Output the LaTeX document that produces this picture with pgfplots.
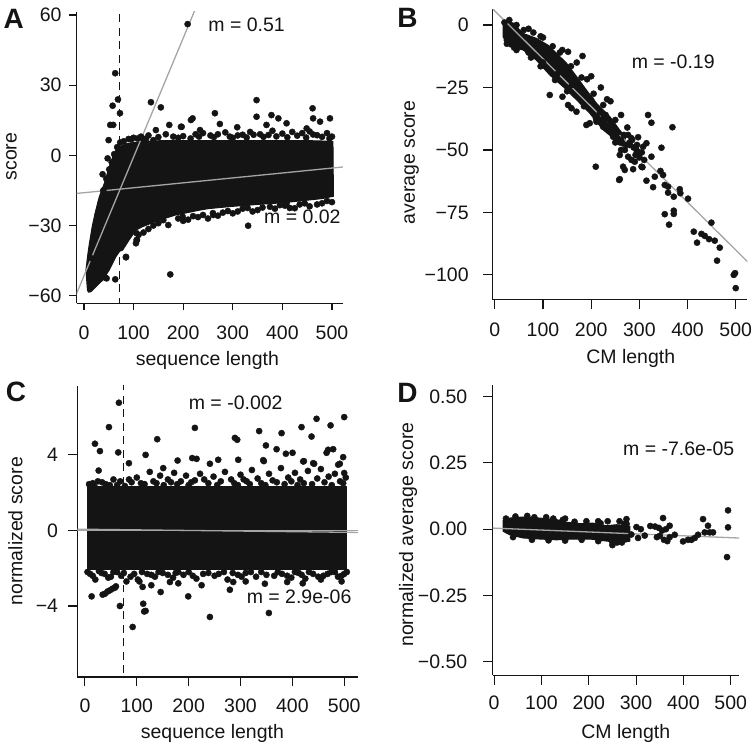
\documentclass[border=0pt]{standalone}
\usepackage{pgfplots}
\pgfplotsset{compat=1.18}
\usepackage{fontspec}
\setmainfont{Liberation Sans}
\definecolor{dk}{RGB}{20,20,20}
\definecolor{gr}{RGB}{165,165,165}
\newcommand{\fs}{\fontsize{19.5}{22}\selectfont}
\newcommand{\fb}{\fontsize{28}{30}\selectfont\bfseries}
\pgfplotsset{
 rbase/.style={scale only axis, axis lines=left, axis line style={-, line width=1.1pt, dk},
   tick align=outside, every tick/.style={line width=1.1pt, dk},
   tick label style={font=\fs, text=dk},
   xticklabel style={anchor=north, inner sep=0pt},
   yticklabel style={anchor=east, inner sep=0pt},
   minor tick num=0, clip=true, anchor=south west},
 pts/.style={only marks, mark=*, mark size=3.1pt, mark options={draw=dk, fill=dk}},
 blob/.style={fill=dk, draw=dk, line width=1pt, line join=round},
 fit/.style={gr, line width=1.3pt, no marks},
 vdash/.style={dk, line width=1.3pt, dash pattern=on 8pt off 5.5pt, no marks}
}
\begin{document}
\begin{tikzpicture}[x=1pt,y=1pt]
\path (0,0) rectangle (752,748);
% ---------------- A
\begin{axis}[rbase, at={(76.7pt,444.7pt)}, width=266.3pt, height=291.6pt,
  xmin=-14.7, xmax=522, ymin=-63.2, ymax=61.4,
  xtick={0,100,200,300,400,500}, xticklabels={0,100,200,300,400,500},
  ytick={-60,-30,0,30,60}, yticklabels={−60,−30,0,30,60},
  major tick length=7.3pt, xticklabel style={yshift=-15.7pt}, yticklabel style={xshift=-7.7pt}]
\addplot[blob] coordinates {(7,-57.6) (4,-49) (8,-42) (11,-37.6) (17,-30) (24,-23.4) (31,-17.7) (41,-12) (51,-4.9) (58,-0.6) (65,2.5) (75,4) (85,5) (118,6) (160,6.3) (206,6.3) (250,6.3) (300,6.3) (350,6.3) (400,6.3) (450,6.3) (502,6) (503,-17.5) (480,-18.5) (435,-19.5) (400,-20.3) (350,-21) (300,-21.8) (250,-22.8) (234,-23.4) (185,-25.5) (152,-27.7) (118,-30.5) (105,-31.9) (91,-36.2) (78,-40.5) (72,-41) (64.5,-43.3) (51,-49) (38,-53.3) (24,-56.2) (14,-58.3) (9,-58.5)} -- cycle;
\addplot[pts] coordinates {(209,56.1) (63,35.1) (68.5,23.9) (57.8,21.2) (72.6,18) (53,13) (59,13) (135,22.7) (155,20.5) (49.7,6.5) (47.7,-1.3) (37.6,-8.1) (118,7.3) (145,10.8) (172,13) (195.6,12.2) (215.7,15.1) (84.7,-43.6) (63.1,-53) (43,-52.3) (174,-50.9) (106.9,-36.2) (104.8,-37.6) (71.2,-39) (264,18) (219,15.8) (197,12.2) (234,10.8) (294,8) (274,13.4) (309,12) (348,16.5) (348,23.6) (378,17.2) (392,15.8) (368,13) (408.5,13.7) (461,20.1) (462,15.8) (496,15.8) (476,14.4) (449,11.5) (331,-30.1) (260.7,-25.5) (199,-26.2) (160,-27.7) (408.5,-20.5) (106.2,-33.3) (106.2,-36.2) (84.7,-43.4) (45.7,-52.6)
 (90,7) (100,7.5) (115,8) (130,8.5) (140,6.5) (165,9) (180,8) (225,9) (240,9.5) (255,8.5) (285,9.8) (320,8.8) (335,10) (355,9) (380,10.5) (400,9.3) (420,10) (440,9.5) (455,10.2) (470,8.6) (490,9.5) (500,8)
 (95,6.8) (108,7.2) (125,7) (150,7.8) (190,7.5) (200,8.2) (215,7.2) (232,8) (262,7.8) (270,9) (300,7.5) (310,8.5) (328,7.6) (342,8.8) (362,7.9) (372,8.7) (388,8.1) (410,7.7) (430,8.4) (448,7.6) (462,8.9) (480,7.9) (495,7.2)
 (120,-33) (140,-30) (170,-29.8) (210,-27.5) (230,-26.4) (250,-27) (280,-24.5) (300,-24.8) (320,-22.8) (350,-23.4) (375,-22) (395,-21.3) (425,-22.6) (445,-20.5) (470,-21) (490,-19.5)
 (110,-34) (130,-31.5) (150,-29) (190,-27) (200,-28) (220,-26) (240,-25.5) (260,-24.7) (270,-25.8) (290,-23.8) (310,-24) (330,-22.5) (340,-24) (360,-22.3) (385,-22.8) (405,-21.5) (415,-22.5) (435,-21) (455,-21.8) (480,-20.5) (500,-20)
 (12,-50) (15,-44) (19,-36) (23,-31) (28,-25) (34,-20) (39,-15) (45,-10) (51,-6) (56,-3) (61,0.5) (67,3.5) (73,5.5) (80,6)};
\addplot[vdash] coordinates {(72,-70) (72,70)};
\addplot[fit] coordinates {(-20,-61.7) (540,222.8)};
\addplot[fit] coordinates {(-20,-16.4) (540,-4.6)};
\end{axis}
% ---------------- B
\begin{axis}[rbase, at={(492.7pt,448pt)}, width=255pt, height=290.7pt,
  xmin=-4.8, xmax=524.2, ymin=-110, ymax=6.3,
  xtick={0,100,200,300,400,500}, xticklabels={0,100,200,300,400,500},
  ytick={-100,-75,-50,-25,0}, yticklabels={−100,−75,−50,−25,0},
  major tick length=9.3pt, xticklabel style={yshift=-13.3pt}, yticklabel style={xshift=-14.4pt}]
\addplot[blob] coordinates {(17,2) (38,0.8) (58,-3.3) (86,-5.3) (110,-8) (128,-11.3) (149,-15.3) (170,-20.7) (190,-26) (211,-31.3) (239,-36.7) (259,-42) (272,-45) (265,-48.5) (259,-47.3) (225,-42) (197,-35.3) (170,-30) (142,-24.7) (114,-20) (86,-14) (59,-10) (31,-8.7) (17,-4.7)} -- cycle;
\addplot[pts] coordinates {(152,-10.7) (182,-12.4) (191.5,-21.7) (114,-28) (140.4,-28.7) (152,-32) (159,-33.3) (169.5,-34.7) (190,-40) (197,-39.3) (211,-38.7) (233,-29.7) (224.7,-40.7) (228.2,-38) (245.5,-44.7) (252.4,-46) (276.6,-44) (283.6,-45.3) (297.4,-44.9) (314.7,-47.3) (307.7,-48.7) (294,-50) (276.6,-52.7) (283.6,-54) (290.5,-54.7) (266.2,-56.7) (269.7,-58) (304.4,-56.7) (318,-36) (325,-39.1) (368.6,-40.9) (345.8,-49.1) (325,-52.7) (306.4,-56.9) (287,-57.7) (259.3,-52) (259.3,-61.7) (314.7,-62.3) (328.5,-64.9) (332,-60.7) (343.7,-58.4) (349.2,-60) (352.7,-64) (359.6,-64.7) (359.6,-67.1) (371.4,-68.7) (383.8,-65.7) (385,-67.3) (401,-69.5) (352.7,-75.7) (371.4,-74.3) (371.4,-75.6) (361.6,-79.9) (412.9,-82.7) (419.7,-87.1) (428.8,-83.6) (435.7,-84.4) (449.5,-79.1) (444.6,-85.7) (456.4,-86.3) (466.8,-89.1) (461.2,-94.3) (495.9,-100) (498.6,-99.3) (500,-105.3) (209.5,-56.7) (258,-62)
 (40,-9) (70,-11) (100,-15) (130,-19.5) (160,-24) (200,-30) (230,-36) (250,-42) (60,-2) (100,-5) (140,-10) (170,-15) (200,-20.5) (220,-25) (240,-30.5) (262,-36) (275,-41) (285,-46) (295,-48) (300,-51) (280,-48) (20,1) (25,-6)
 (30,2) (45,0) (70,-1.5) (80,-3) (95,-4.5) (120,-8.5) (135,-11) (158,-16.5) (180,-21) (205,-27.5) (225,-32) (250,-38)
 (25,-7.5) (45,-10) (75,-13) (95,-16.5) (125,-22) (150,-26.5) (185,-32.5) (210,-37.5) (240,-42.5) (260,-47) (270,-50)
 (218,-35) (226,-37) (236,-40) (244,-41) (255,-43) (262,-46) (268,-44) (272,-48) (280,-47) (288,-49) (292,-52) (300,-53) (305,-51) (310,-54) (262,-50) (250,-47)};
\addplot[fit] coordinates {(-10,7.54) (540,-97.7)};
\end{axis}
% ---------------- C
\begin{axis}[rbase, at={(77.3pt,70.7pt)}, width=281pt, height=291.6pt,
  xmin=-14.8, xmax=526.9, ymin=-7.76, ymax=7.67,
  xtick={0,100,200,300,400,500}, xticklabels={0,100,200,300,400,500},
  ytick={-4,0,4}, yticklabels={−4,0,4},
  major tick length=9pt, xticklabel style={yshift=-12.7pt}, yticklabel style={xshift=-10pt}]
\addplot[blob] coordinates {(4,2.3) (505,2.3) (505,-2.05) (4,-2.05)} -- cycle;
\addplot[pts] coordinates {(65.5,6.76) (46.3,5.47) (19.3,4.59) (28.9,4.2) (64.2,4.13) (84.8,3.56) (26.4,3.17) (117,4.0) (139.4,4.83) (212,5.43) (206.9,3.83) (215.3,3.79) (178.7,3.7) (151,3.3) (257,3.74) (241,3.53) (295.6,3.74) (289.2,4.9) (293.7,4.8) (336,5.26) (349,4.5) (345,3.67) (369.6,4.3) (379.2,5.15) (387.5,4.06) (400.4,4.11) (417.7,5.47) (422.2,3.67) (437,4.97) (442,3.53) (446.7,5.91) (473.7,5.56) (466,4.11) (469,4.27) (500,6.0) (491.6,3.53) (498,3.88) (500,3.04) (478.7,4.3) (420.9,3.65) (440.2,3.56) (488.4,3.48) (343.8,3.72)
 (12.9,-3.49) (38.6,-3.35) (48.2,-3.17) (57.8,-3.03) (67.5,-4.0) (92,-5.11) (112.4,-3.88) (117,-4.26) (111.2,-2.99) (146,-3.26) (163.9,-2.73) (199.2,-3.49) (241,-4.58) (286,-2.73) (279.5,-3.14) (354.7,-4.37) (347,-2.82) (390,-2.73) (34.1,-3.4) (43.8,-3.23) (53.4,-3.08) (59.8,-2.96) (114.3,-4.29) (105,-2.7) (128,-2.9) (180,-2.8) (225,-2.9) (310,-2.7) (420,-2.8) (455,-2.6) (495,-2.7)
 (15,2.5) (25,2.6) (40,2.45) (55,2.7) (62,2.4) (90,2.55) (100,2.8) (108,2.5) (125,3.1) (132,2.6) (145,2.9) (160,2.7) (172,3.05) (185,2.6) (195,2.9) (205,2.55) (222,3.0) (230,2.7) (248,2.85) (262,2.6) (270,3.1) (282,2.7) (300,2.95) (312,2.6) (322,3.2) (333,2.75) (355,3.0) (362,2.65) (378,3.3) (392,2.8) (405,3.05) (415,2.7) (430,3.15) (448,2.75) (455,3.25) (470,2.85) (482,3.0) (492,2.6) (503,2.8)
 (8,2.45) (18,2.35) (33,2.55) (48,2.4) (68,2.6) (77,2.35) (85,2.7) (115,2.45) (138,2.5) (152,2.4) (166,2.55) (178,2.45) (200,2.4) (212,2.65) (238,2.5) (255,2.4) (288,2.5) (295,2.4) (306,2.7) (318,2.45) (340,2.5) (348,2.4) (370,2.55) (385,2.45) (398,2.6) (410,2.4) (422,2.5) (438,2.45) (462,2.55) (476,2.4) (498,2.5)
 (10,-2.3) (20,-2.6) (32,-2.25) (45,-2.5) (55,-2.2) (70,-2.4) (80,-2.7) (95,-2.3) (102,-2.6) (120,-2.3) (135,-2.45) (150,-2.25) (170,-2.5) (180,-2.2) (190,-2.35) (215,-2.55) (228,-2.3) (250,-2.4) (268,-2.2) (275,-2.6) (295,-2.35) (310,-2.25) (330,-2.45) (340,-2.2) (365,-2.4) (380,-2.3) (398,-2.5) (412,-2.25) (425,-2.55) (440,-2.3) (460,-2.4) (475,-2.2) (488,-2.45) (500,-2.3)
 (5,-2.2) (15,-2.4) (27,-2.15) (38,-2.3) (50,-2.45) (62,-2.2) (75,-2.25) (88,-2.45) (110,-2.2) (128,-2.35) (142,-2.2) (160,-2.35) (175,-2.25) (200,-2.2) (208,-2.4) (238,-2.25) (258,-2.3) (285,-2.25) (302,-2.45) (320,-2.2) (350,-2.35) (372,-2.2) (390,-2.4) (405,-2.2) (418,-2.35) (432,-2.2) (450,-2.45) (468,-2.3) (482,-2.2) (495,-2.4) (505,-2.2)};
\addplot[vdash] coordinates {(74,-9) (74,9)};
\addplot[fit] coordinates {(-20,0.0) (540,0.0)};
\addplot[fit] coordinates {(-20,0.07) (540,-0.11)};
\end{axis}
% ---------------- D
\begin{axis}[rbase, at={(492.7pt,72.3pt)}, width=246.6pt, height=291pt,
  xmin=-3.4, xmax=517.5, ymin=-0.551, ymax=0.545,
  xtick={0,100,200,300,400,500}, xticklabels={0,100,200,300,400,500},
  ytick={-0.5,-0.25,0,0.25,0.5}, yticklabels={−0.50,−0.25,0.00,0.25,0.50},
  major tick length=9.3pt, xticklabel style={yshift=-10.7pt}, yticklabel style={xshift=-15.7pt}]
\addplot[blob] coordinates {(19,0.033) (33,0.042) (61,0.046) (96,0.042) (132,0.036) (153,0.026) (181,0.021) (209,0.023) (237,0.013) (259,0.017) (287,0.011) (287,-0.045) (259,-0.055) (244,-0.046) (202,-0.037) (167,-0.037) (132,-0.040) (96,-0.037) (61,-0.033) (33,-0.021) (19,-0.008)} -- cycle;
\addplot[pts] coordinates {(357,0.042) (371,0.013) (340,0.01) (348,0.005) (355,-0.005) (363,0.0) (330,0.012) (344,-0.03) (350,-0.025) (359,-0.04) (366,-0.045) (371,-0.03) (381.7,-0.021) (399.2,-0.046) (409.8,-0.040) (417,-0.040) (424,-0.033) (431,-0.021) (441.5,0.038) (452,0.013) (445,-0.012) (455.6,-0.012) (462.6,-0.012) (494.3,0.071) (494.3,0.007) (492.2,-0.105) (279.7,0.038) (300.8,0.008) (304.2,-0.033) (318.3,-0.024) (290,-0.02) (275,0.02) (310,0.0) (260,-0.05) (250,-0.05) (240,0.03) (220,0.03) (150,0.04)
 (25,0.04) (45,0.048) (70,0.05) (85,0.045) (110,0.045) (125,0.04) (145,0.035) (170,0.028) (195,0.03) (225,0.022) (265,0.03) (280,0.02) (40,-0.03) (80,-0.04) (115,-0.042) (150,-0.043) (185,-0.04) (220,-0.045) (250,-0.06) (270,-0.05)};
\addplot[fit] coordinates {(-10,0.0047) (540,-0.0349)};
\end{axis}
% ---------------- texts
\node[anchor=base west, font=\fb, text=dk] at (0,719.7) {A};
\node[anchor=base west, font=\fb, text=dk] at (394,720.7) {B};
\node[anchor=base west, font=\fb, text=dk] at (2.3,346.7) {C};
\node[anchor=base west, font=\fb, text=dk] at (394,345.7) {D};
\node[anchor=base, font=\fs, text=dk] at (246.7,716.3) {m = 0.51};
\node[anchor=base, font=\fs, text=dk] at (302.5,524) {m = 0.02};
\node[anchor=base, font=\fs, text=dk] at (673.5,679.7) {m = -0.19};
\node[anchor=base, font=\fs, text=dk] at (235.8,338) {m = -0.002};
\node[anchor=base, font=\fs, text=dk] at (299.2,144) {m = 2.9e-06};
\node[anchor=base, font=\fs, text=dk] at (679,292.3) {m = -7.6e-05};
\node[anchor=base, font=\fs, text=dk] at (207.5,382) {sequence length};
\node[anchor=base, font=\fs, text=dk] at (631,384.7) {CM length};
\node[anchor=base, font=\fs, text=dk] at (212.5,9) {sequence length};
\node[anchor=base, font=\fs, text=dk] at (626,9) {CM length};
\node[anchor=base, rotate=90, font=\fs, text=dk] at (16.7,591.3) {score};
\node[anchor=base, rotate=90, font=\fs, text=dk] at (415,585.5) {average score};
\node[anchor=base, rotate=90, font=\fs, text=dk] at (22.5,216.5) {normalized score};
\node[anchor=base, rotate=90, font=\fs, text=dk] at (413.3,213.2) {normalized average score};
\end{tikzpicture}
\end{document}
